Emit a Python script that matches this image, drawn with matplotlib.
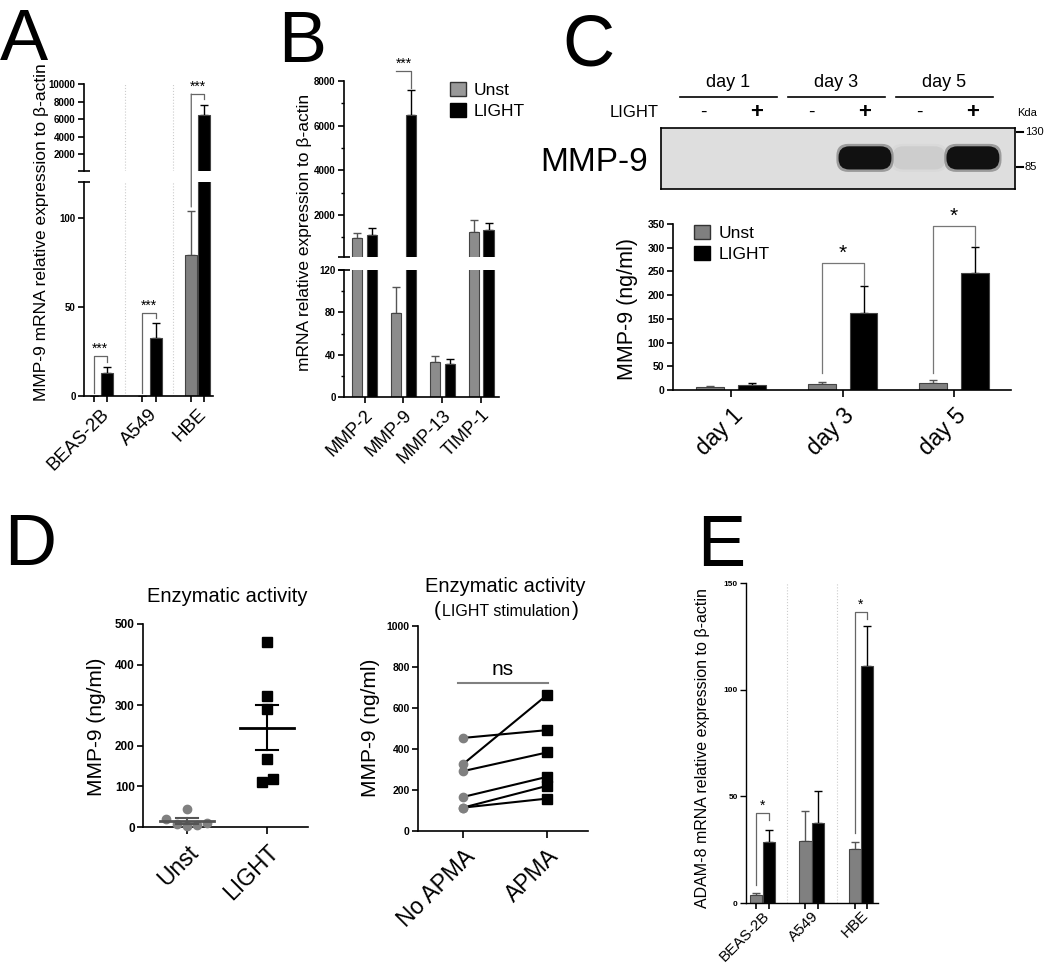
import numpy as np
import matplotlib
matplotlib.use('Agg')
import matplotlib.pyplot as plt
from matplotlib.patches import ConnectionPatch, FancyBboxPatch, Patch

plt.rcParams['font.family'] = ['Liberation Sans', 'DejaVu Sans']

W, H = 1050, 968

# A: MMP-9 mRNA per cell line
cells = ['BEAS-2B', 'A549', 'HBE']
a_unst = [0, 0, 79]
a_unst_err = [0, 0, 25]
a_light = [13, 32.5, 6500]
a_light_err = [3.5, 8.5, 1100]

# B: MMPs / TIMP-1 mRNA
genes = ['MMP-2', 'MMP-9', 'MMP-13', 'TIMP-1']
b_unst = [950, 79, 33, 1250]
b_unst_err = [250, 25, 6, 510]
b_light = [1120, 6500, 31.5, 1350]
b_light_err = [300, 1100, 4, 290]

# C: MMP-9 protein by day
days = ['day 1', 'day 3', 'day 5']
c_unst = [6, 12.5, 15]
c_unst_err = [2.5, 5, 5.5]
c_light = [11, 163, 246]
c_light_err = [3, 56, 55]
blot_signs = ['-', '+', '-', '+', '-', '+']
blot_band = [0, 0, 0, 1.0, 0.06, 1.0]
kda_marks = ['130', '85']

# D: enzymatic activity
d_unst = [20.5, 44, 8, 1.6, 5, 10]
d_light = [456, 323, 290, 168, 112, 117]
apma_groups = ['No APMA', 'APMA']
no_apma = [454, 326, 292, 166, 114, 114]
apma = [492, 663, 383, 264, 220, 158]

# E: ADAM-8 mRNA
e_unst = [3.9, 29, 25.5]
e_unst_err = [0.8, 14.3, 3.2]
e_light = [28.7, 37.3, 111]
e_light_err = [5.7, 15.1, 19]

GRAY = '#808080'
LINE = '#666666'


def box(x0, y0, x1, y1):
    return [x0 / W, 1 - y1 / H, (x1 - x0) / W, (y1 - y0) / H]


def style(ax, lw=1.2, bottom=True):
    ax.spines['top'].set_visible(False)
    ax.spines['right'].set_visible(False)
    ax.spines['left'].set_linewidth(lw)
    ax.spines['bottom'].set_linewidth(lw)
    if not bottom:
        ax.spines['bottom'].set_visible(False)
        ax.set_xticks([])
    ax.tick_params(width=lw, length=4, pad=2)


def yticks(ax, ticks, fs):
    ax.set_yticks(ticks, [str(t) for t in ticks], fontsize=fs, fontweight='bold')


def bars(ax, x, vals, errs, color, ecolor, width, floor=None, edge='#444444'):
    x = np.asarray(x, float)
    vals = np.asarray(vals, float)
    errs = np.asarray(errs, float)
    keep = vals > (floor if floor is not None else -1)
    x, vals, errs = x[keep], vals[keep], errs[keep]
    if len(x) == 0:
        return
    ax.bar(x, vals, width, color=color, edgecolor=edge, linewidth=0.8, zorder=2)
    ax.errorbar(x, vals, yerr=[np.zeros(len(errs)), errs], fmt='none', ecolor=ecolor,
                elinewidth=1.0, capsize=3, capthick=1.0, zorder=1)


def xlabels(ax, pos, labels, fs, minor=None):
    ax.set_xticks(pos, labels, rotation=45, ha='right', rotation_mode='anchor', fontsize=fs)
    if minor is not None:
        ax.set_xticks(minor, minor=True)
        ax.tick_params(axis='x', which='major', length=0, pad=7)
        ax.tick_params(axis='x', which='minor', length=4, width=1.2)


def bracket(ax, x1, x2, y1, y2, top, stars, fs, color=LINE):
    ax.plot([x1, x1, x2, x2], [y1, top, top, y2], color=color, lw=0.9, clip_on=False)
    ax.text((x1 + x2) / 2, top, stars, ha='center', va='bottom', fontsize=fs)


fig = plt.figure(figsize=(W / 100, H / 100), dpi=100)

# ---------------- A ----------------
aup = fig.add_axes(box(84, 84, 213, 171))
alo = fig.add_axes(box(84, 182, 213, 396))
xa = np.arange(len(cells))
oa, wa = 0.135, 0.245
for ax, fl in ((aup, 120), (alo, None)):
    bars(ax, xa - oa, a_unst, a_unst_err, GRAY, '#555555', wa, floor=fl)
    bars(ax, xa + oa, a_light, a_light_err, 'black', 'black', wa, floor=fl)
    ax.set_xlim(-0.33, 2.31)
    for s in (0.5, 1.5):
        ax.axvline(s, color='#cccccc', lw=0.8, ls=':', zorder=0)
aup.set_ylim(120, 10000)
alo.set_ylim(0, 120)
style(aup, bottom=False)
style(alo)
yticks(aup, [2000, 4000, 6000, 8000, 10000], 7)
yticks(alo, [0, 50, 100], 7)
xlabels(alo, xa, cells, 13.5, minor=np.concatenate([xa - oa, xa + oa]))
aup.plot([0], [0], marker='_', ms=8, mew=1.2, color='k', transform=aup.transAxes, clip_on=False)
alo.plot([0], [1], marker='_', ms=8, mew=1.2, color='k', transform=alo.transAxes, clip_on=False)
bracket(alo, 0 - oa, 0 + oa, 1.5, 19, 22.5, '***', 10)
bracket(alo, 1 - oa, 1 + oa, 1.5, 44, 46.6, '***', 10)
fig.add_artist(ConnectionPatch(xyA=(2 - oa, 106), coordsA='data', axesA=alo,
                               xyB=(2 - oa, 8857), coordsB='data', axesB=aup, color=LINE, lw=0.9))
bracket(aup, 2 - oa, 2 + oa, 8857, 8300, 8857, '***', 10)
fig.text(42 / W, 1 - 232 / H, 'MMP-9 mRNA relative expression to β-actin', rotation=90,
         ha='center', va='center', fontsize=12.5)

# ---------------- B ----------------
bup = fig.add_axes(box(344, 81, 499, 257))
blo = fig.add_axes(box(344, 270, 499, 397))
xb = np.arange(len(genes))
ob, wb = 0.19, 0.26
for ax, fl in ((bup, 120), (blo, None)):
    bars(ax, xb - ob, b_unst, b_unst_err, '#8c8c8c', '#555555', wb, floor=fl)
    bars(ax, xb + ob, b_light, b_light_err, 'black', 'black', wb, floor=fl)
    ax.set_xlim(-0.53, 3.46)
bup.set_ylim(120, 8000)
blo.set_ylim(0, 120)
style(bup, bottom=False)
style(blo)
yticks(bup, [2000, 4000, 6000, 8000], 7)
yticks(blo, [0, 40, 80, 120], 7)
bup.set_yticks(np.arange(1000, 8000, 1000), minor=True)
blo.set_yticks(np.arange(20, 120, 40), minor=True)
bup.tick_params(which='minor', length=2, width=1)
blo.tick_params(which='minor', length=2, width=1)
xlabels(blo, xb, genes, 13)
blo.tick_params(axis='x', length=4, pad=3)
bup.plot([0], [0], marker='_', ms=8, mew=1.2, color='k', transform=bup.transAxes, clip_on=False)
blo.plot([0], [1], marker='_', ms=8, mew=1.2, color='k', transform=blo.transAxes, clip_on=False)
fig.add_artist(ConnectionPatch(xyA=(1 - ob, 106), coordsA='data', axesA=blo,
                               xyB=(1 - ob, 8448), coordsB='data', axesB=bup, color=LINE, lw=0.9))
bracket(bup, 1 - ob, 1 + ob, 8448, 7700, 8448, '***', 10)
bup.legend([Patch(facecolor='#999999', edgecolor='#333333'), Patch(facecolor='black', edgecolor='black')],
           ['Unst', 'LIGHT'], loc='upper left', bbox_to_anchor=(450 / W, 1 - 82 / H),
           bbox_transform=fig.transFigure, frameon=False, fontsize=12.5, handlelength=0.9,
           handleheight=0.9, handletextpad=0.45, labelspacing=0.25, borderpad=0, borderaxespad=0)
fig.text(305 / W, 1 - 232 / H, 'mRNA relative expression to β-actin', rotation=90,
         ha='center', va='center', fontsize=12.5)

# ---------------- C blot ----------------
bl = fig.add_axes(box(661, 128, 1015, 189))
bl.set_xlim(-0.78, 5.78)
bl.set_ylim(0, 1)
bl.set_facecolor('#dedede')
bl.set_xticks([])
bl.set_yticks([])
for s in bl.spines.values():
    s.set_linewidth(1.2)
for i, v in enumerate(blot_band):
    if v > 0:
        bl.add_patch(FancyBboxPatch((i - 0.53, 0.28), 1.06, 0.46, boxstyle='round,pad=0,rounding_size=0.22',
                                    mutation_aspect=54 / 61, fc='black', ec='none', alpha=0.3 * v))
        bl.add_patch(FancyBboxPatch((i - 0.49, 0.32), 0.98, 0.38, boxstyle='round,pad=0,rounding_size=0.2',
                                    mutation_aspect=54 / 61, fc='#111111', ec='none', alpha=v))
    bl.text(i, 1.25, blot_signs[i], ha='center', va='center', fontsize=16 if blot_signs[i] == '+' else 14,
            fontweight='bold' if blot_signs[i] == '+' else 'normal')
bl.text(-0.82, 1.25, 'LIGHT', ha='right', va='center', fontsize=12)
for k, d in enumerate(days):
    bl.plot([2 * k - 0.43, 2 * k + 1.37], [1.51, 1.51], color='black', lw=1.2, clip_on=False)
    bl.text(2 * k + 0.47, 1.6, d, ha='center', va='bottom', fontsize=13)
bl.text(6.0, 1.25, 'Kda', ha='center', va='center', fontsize=8)
for lab, yy in zip(kda_marks, [0.934, 0.36]):
    bl.plot([5.81, 5.93], [yy, yy], color='black', lw=1.5, clip_on=False)
    bl.text(5.96, yy, lab, ha='left', va='center', fontsize=8)
bl.text(-1.02, 0.44, 'MMP-9', ha='right', va='center', fontsize=24)

# ---------------- C chart ----------------
axc = fig.add_axes(box(673, 224, 1011, 390))
xc = np.arange(len(days))
oc, wc = 0.188, 0.25
bars(axc, xc - oc, c_unst, c_unst_err, GRAY, '#555555', wc)
bars(axc, xc + oc, c_light, c_light_err, 'black', 'black', wc)
axc.set_xlim(-0.52, 2.51)
axc.set_ylim(0, 350)
style(axc)
yticks(axc, list(range(0, 351, 50)), 7.5)
xlabels(axc, xc, days, 16.5)
axc.tick_params(axis='x', length=5, pad=5)
bracket(axc, 1 - oc, 1 + oc, 36, 222, 268, '*', 15, color='#777777')
bracket(axc, 2 - oc, 2 + oc, 36, 304, 346, '*', 15, color='#777777')
axc.legend([Patch(facecolor=GRAY, edgecolor='#333333'), Patch(facecolor='black', edgecolor='black')],
           ['Unst', 'LIGHT'], loc='upper left', bbox_to_anchor=(694 / W, 1 - 225 / H),
           bbox_transform=fig.transFigure, frameon=False, fontsize=12.5, handlelength=0.9,
           handleheight=0.9, handletextpad=0.5, labelspacing=0.25, borderpad=0, borderaxespad=0)
fig.text(627 / W, 1 - 309 / H, 'MMP-9 (ng/ml)', rotation=90, ha='center', va='center', fontsize=15.5)

# ---------------- D left ----------------
ad1 = fig.add_axes(box(143, 624, 308, 827))
unst_off = [-0.26, 0, -0.125, 0, 0.125, 0.25]
light_off = [0, 0, 0, 0, -0.07, 0.07]
ad1.plot(unst_off, d_unst, 'o', color=GRAY, ms=6, clip_on=False, zorder=3)
ad1.plot(1 + np.array(light_off), d_light, 's', color='black', ms=6.5, clip_on=False, zorder=3)
for xi, vals, col in [(0, d_unst, '#555555'), (1, d_light, 'black')]:
    m = np.mean(vals)
    se = np.std(vals, ddof=1) / np.sqrt(len(vals))
    ad1.plot([xi - 0.34, xi + 0.34], [m, m], color=col, lw=2, zorder=4)
    ad1.plot([xi - 0.14, xi + 0.14], [m + se, m + se], color=col, lw=1.5, zorder=4)
    ad1.plot([xi - 0.14, xi + 0.14], [m - se, m - se], color=col, lw=1.5, zorder=4)
    ad1.plot([xi, xi], [m - se, m + se], color=col, lw=1.5, zorder=4)
ad1.set_xlim(-0.55, 1.51)
ad1.set_ylim(0, 500)
style(ad1)
yticks(ad1, list(range(0, 501, 100)), 8.5)
xlabels(ad1, [0, 1], ['Unst', 'LIGHT'], 16.5)
ad1.tick_params(axis='x', length=5, pad=5)
fig.text(227 / W, 1 - 597 / H, 'Enzymatic activity', ha='center', va='center', fontsize=14.5)
fig.text(97 / W, 1 - 727 / H, 'MMP-9 (ng/ml)', rotation=90, ha='center', va='center', fontsize=15)

# ---------------- D right ----------------
ad2 = fig.add_axes(box(418, 626, 588, 831))
for a, b in zip(no_apma, apma):
    ad2.plot([0, 1], [a, b], color='black', lw=1.5, zorder=2)
ad2.plot([0] * len(no_apma), no_apma, 'o', color=GRAY, ms=6, zorder=3)
ad2.plot([1] * len(apma), apma, 's', color='black', ms=6.5, zorder=3)
ad2.plot([-0.06, 1.01], [723, 723], color=GRAY, lw=1.5)
ad2.text(0.475, 740, 'ns', ha='center', va='bottom', fontsize=15)
ad2.set_xlim(-0.536, 1.49)
ad2.set_ylim(0, 1000)
style(ad2)
yticks(ad2, list(range(0, 1001, 200)), 7.5)
xlabels(ad2, [0, 1], apma_groups, 16.5)
ad2.tick_params(axis='x', length=5, pad=5)
fig.text(505 / W, 1 - 587 / H, 'Enzymatic activity', ha='center', va='center', fontsize=14.5)
fig.text(506 / W, 1 - 612 / H, 'LIGHT stimulation', ha='center', va='center', fontsize=11.5)
fig.text(437 / W, 1 - 611 / H, '(', ha='center', va='center', fontsize=15)
fig.text(575 / W, 1 - 611 / H, ')', ha='center', va='center', fontsize=15)
fig.text(370 / W, 1 - 728 / H, 'MMP-9 (ng/ml)', rotation=90, ha='center', va='center', fontsize=15)

# ---------------- E ----------------
ae = fig.add_axes(box(746, 583, 878, 903))
xe = np.arange(len(cells))
oe, we = 0.127, 0.25
bars(ae, xe - oe, e_unst, e_unst_err, GRAY, '#555555', we)
bars(ae, xe + oe, e_light, e_light_err, 'black', 'black', we)
for s in (0.5, 1.51):
    ae.axvline(s, color='#cccccc', lw=0.8, ls=':', zorder=0)
ae.set_xlim(-0.335, 2.345)
ae.set_ylim(0, 150)
style(ae, lw=1.0)
yticks(ae, [0, 50, 100, 150], 6)
xlabels(ae, xe, cells, 11, minor=np.concatenate([xe - oe, xe + oe]))
ae.tick_params(axis='x', which='major', pad=4)
bracket(ae, 0 - oe, 0 + oe, 8.3, 38.8, 42.2, '*', 10)
bracket(ae, 2 - oe, 2 + oe, 32.6, 133, 136.4, '*', 10)
fig.text(703 / W, 1 - 748 / H, 'ADAM-8 mRNA relative expression to β-actin', rotation=90,
         ha='center', va='center', fontsize=11.5)

# panel letters
for lab, x, y in [('A', 0, 60), ('B', 278, 62), ('C', 562, 66), ('D', 4, 565), ('E', 697, 566)]:
    fig.text(x / W, 1 - y / H, lab, fontsize=52, ha='left', va='baseline')

fig.savefig('out.png', dpi=100)
